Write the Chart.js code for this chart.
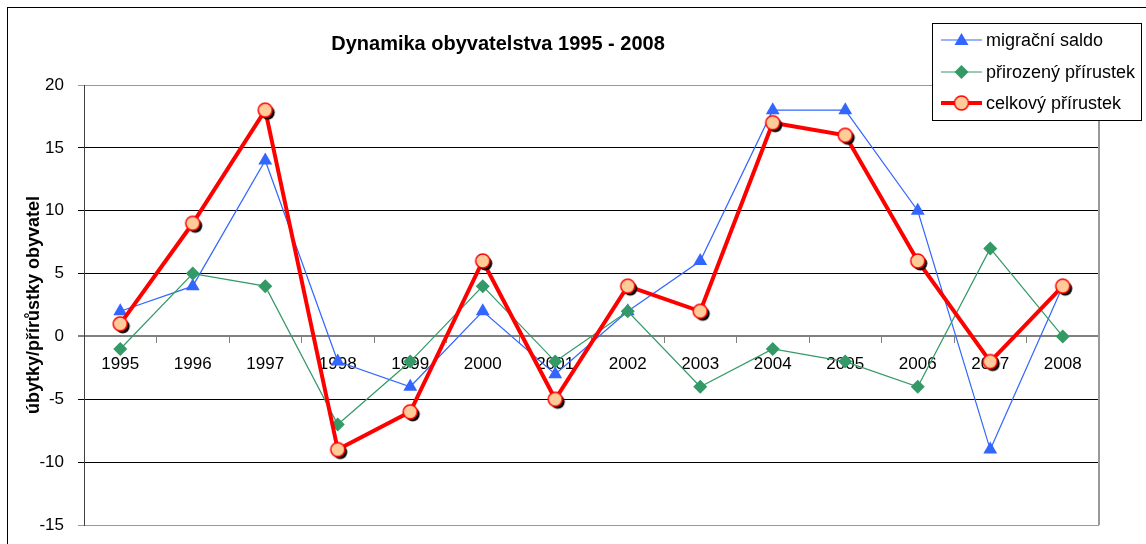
<!DOCTYPE html>
<html>
<head>
<meta charset="utf-8">
<script src="https://cdn.jsdelivr.net/npm/chart.js@4/dist/chart.umd.min.js"></script>
<style>
  html, body { margin: 0; padding: 0; background: #fff; }
  #wrap { width: 1146px; height: 544px; position: relative; }
</style>
</head>
<body>
<div id="wrap"><canvas id="dynamika-chart"></canvas></div>
<script>
// Data
const years = ['1995', '1996', '1997', '1998', '1999', '2000', '2001',
  '2002', '2003', '2004', '2005', '2006', '2007', '2008'];
const migracniSaldo = [2, 4, 14, -2, -4, 2, -3, 2, 6, 18, 18, 10, -9, 4];
const prirozenyPrirustek = [-1, 5, 4, -7, -2, 4, -2, 2, -4, -1, -2, -4, 7, 0];
const celkovyPrirustek = [1, 9, 18, -9, -6, 6, -5, 4, 2, 17, 16, 6, -2, 4];
const yTicks = [-15, -10, -5, 0, 5, 10, 15, 20];

const chartTitle = 'Dynamika obyvatelstva 1995 - 2008';
const yTitle = 'úbytky/přírůstky obyvatel';
const seriesNames = ['migrační saldo', 'přirozený přírustek', 'celkový přírustek'];

const FONT = '"Liberation Sans", Arial, sans-serif';
const BLUE = '#3366FF';
const GREEN = '#339966';
const RED = '#FF0000';
const PEACH = '#FFCC99';

// circle marker with black shadow (Excel style)
function circleMarker(shadow) {
  const c = document.createElement('canvas');
  c.width = 24;
  c.height = 24;
  const g = c.getContext('2d');
  if (shadow) {
    g.fillStyle = '#000';
    g.beginPath();
    g.arc(14.5, 14.5, 7, 0, Math.PI * 2);
    g.fill();
  }
  g.fillStyle = PEACH;
  g.strokeStyle = RED;
  g.lineWidth = 1.5;
  g.beginPath();
  g.arc(12, 12, 7, 0, Math.PI * 2);
  g.fill();
  g.stroke();
  return c;
}

// frame, plot border, title and legend
const decorations = {
  id: 'decorations',
  beforeDraw(chart) {
    const ctx = chart.ctx;
    ctx.save();
    ctx.fillStyle = '#fff';
    ctx.fillRect(0, 0, chart.width, chart.height);
    ctx.strokeStyle = '#000';
    ctx.lineWidth = 1;
    ctx.strokeRect(7.5, 7.5, 1300, 700);
    ctx.restore();
  },
  beforeDatasetsDraw(chart) {
    const {ctx, chartArea: a} = chart;
    ctx.save();
    ctx.strokeStyle = '#999';
    ctx.lineWidth = 2;
    ctx.beginPath();
    ctx.moveTo(a.right, a.top);
    ctx.lineTo(a.right, a.bottom);
    ctx.stroke();
    ctx.restore();
  },
  afterDraw(chart) {
    const ctx = chart.ctx;
    ctx.save();
    // title
    ctx.fillStyle = '#000';
    ctx.font = 'bold 20px ' + FONT;
    ctx.textAlign = 'center';
    ctx.textBaseline = 'middle';
    ctx.fillText(chartTitle, 498, 44);

    // legend
    const lx = 932.5, ly = 23.5, lw = 209, lh = 97;
    ctx.fillStyle = '#fff';
    ctx.fillRect(lx, ly, lw, lh);
    ctx.strokeStyle = '#000';
    ctx.lineWidth = 1;
    ctx.strokeRect(lx, ly, lw, lh);

    const rows = [40, 72, 103];
    const colors = [BLUE, GREEN, RED];
    const widths = [1, 1, 4];
    rows.forEach((y, i) => {
      ctx.strokeStyle = colors[i];
      ctx.lineWidth = widths[i];
      ctx.beginPath();
      ctx.moveTo(941, y);
      ctx.lineTo(982, y);
      ctx.stroke();
      const cx = 961.5;
      ctx.fillStyle = colors[i];
      ctx.beginPath();
      if (i === 0) {
        ctx.moveTo(cx, y - 7);
        ctx.lineTo(cx + 7, y + 5);
        ctx.lineTo(cx - 7, y + 5);
        ctx.closePath();
        ctx.fill();
      } else if (i === 1) {
        ctx.moveTo(cx, y - 7);
        ctx.lineTo(cx + 7, y);
        ctx.lineTo(cx, y + 7);
        ctx.lineTo(cx - 7, y);
        ctx.closePath();
        ctx.fill();
      } else {
        ctx.drawImage(circleMarker(false), cx - 12, y - 12);
      }
      ctx.fillStyle = '#000';
      ctx.font = '18px ' + FONT;
      ctx.textAlign = 'left';
      ctx.textBaseline = 'middle';
      ctx.fillText(seriesNames[i], 986, y + 1);
    });
    ctx.restore();
  }
};

const ctx = document.getElementById('dynamika-chart');

new Chart(ctx, {
  type: 'line',
  data: {
    labels: years,
    datasets: [{
      label: seriesNames[2],
      data: celkovyPrirustek,
      borderColor: RED,
      borderWidth: 4,
      pointStyle: circleMarker(true),
      pointRadius: 7,
      tension: 0,
      order: 1
    }, {
      label: seriesNames[1],
      data: prirozenyPrirustek,
      borderColor: GREEN,
      backgroundColor: GREEN,
      borderWidth: 1.2,
      pointStyle: 'rectRot',
      pointRadius: 7,
      pointBorderWidth: 0,
      tension: 0,
      order: 2
    }, {
      label: seriesNames[0],
      data: migracniSaldo,
      borderColor: BLUE,
      backgroundColor: BLUE,
      borderWidth: 1.2,
      pointStyle: 'triangle',
      pointRadius: 8,
      pointBorderWidth: 0,
      tension: 0,
      order: 3
    }]
  },
  options: {
    responsive: true,
    maintainAspectRatio: false,
    animation: false,
    layout: {
      padding: {left: 0, top: 85, right: 47, bottom: 19}
    },
    plugins: {
      legend: {display: false},
      title: {display: false},
      tooltip: {enabled: false}
    },
    scales: {
      x: {
        type: 'category',
        offset: true,
        position: {y: 0},
        grid: {
          offset: true,
          drawOnChartArea: false,
          drawTicks: true,
          tickLength: 6,
          color: '#808080'
        },
        border: {display: true, color: '#808080', width: 2},
        ticks: {
          color: '#000',
          font: {family: FONT, size: 17},
          padding: 12,
          maxRotation: 0,
          autoSkip: false
        }
      },
      y: {
        min: yTicks[0],
        max: yTicks[yTicks.length - 1],
        afterFit(scale) {
          scale.width = 84;
          // label overflow fits inside layout padding already
          scale.paddingTop = 0;
          scale.paddingBottom = 0;
        },
        afterBuildTicks(scale) {
          scale.ticks = yTicks.map(v => ({value: v}));
        },
        grid: {
          tickLength: 6,
          color: c => {
            const v = c.tick && c.tick.value;
            if (v === 0) return '#808080';
            if (v === yTicks[0] || v === yTicks[yTicks.length - 1]) return '#999';
            return '#000';
          },
          lineWidth: c => (c.tick && c.tick.value === 0 ? 2 : 1)
        },
        border: {color: '#404040', width: 1},
        ticks: {
          color: '#000',
          font: {family: FONT, size: 17},
          padding: 14
        },
        title: {
          display: true,
          text: yTitle,
          color: '#000',
          font: {family: FONT, size: 18, weight: 'bold'},
          padding: {top: 23, bottom: 0}
        }
      }
    }
  },
  plugins: [decorations]
});
</script>
</body>
</html>
